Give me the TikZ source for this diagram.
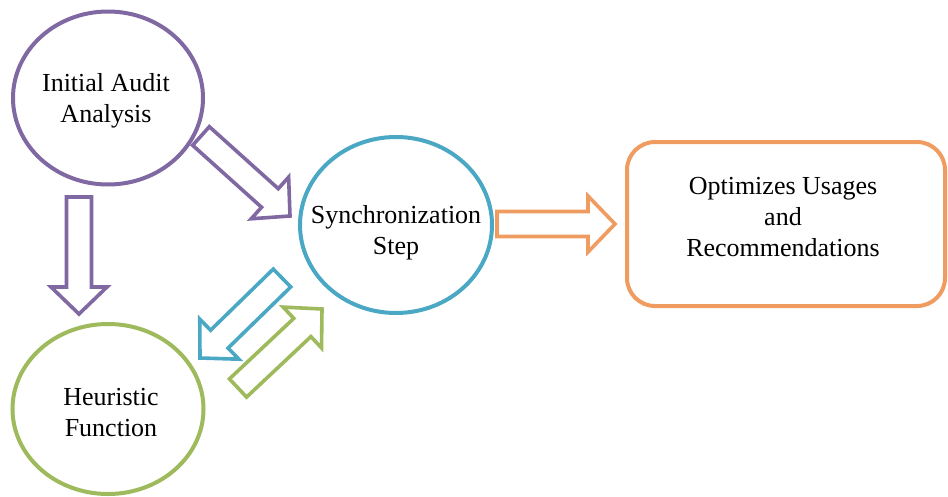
\documentclass[tikz,border=0pt]{standalone}
\usepackage{fontspec}
\setmainfont{Liberation Serif}
\usetikzlibrary{shapes.geometric,calc}

\definecolor{auditpurple}{RGB}{128,104,162}
\definecolor{syncteal}{RGB}{75,168,196}
\definecolor{heurgreen}{RGB}{158,186,92}
\definecolor{optorange}{RGB}{240,156,96}

% hollow block arrow from #2 to #3 in colour #1
\newcommand\fatarr[3]{%
  \coordinate (fab) at ($(#3)!27pt!(#2)$);
  \draw[blockline,#1]
    ($(#2)!12.5pt!90:(#3)$) -- ($(fab)!12.5pt!90:(#3)$) --
    ($(fab)!28pt!90:(#3)$) -- (#3) --
    ($(fab)!28pt!-90:(#3)$) -- ($(fab)!12.5pt!-90:(#3)$) --
    ($(#2)!12.5pt!-90:(#3)$) -- cycle;}

\begin{document}
\begin{tikzpicture}[x=1pt,y=-1pt,
  every node/.style={font=\fontsize{26}{31}\selectfont},
  stage/.style={ellipse,draw,line width=4pt,inner sep=0pt},
  caption/.style={align=center,inner sep=0pt},
  blockline/.style={line width=3.6pt,line join=miter,fill=white}]

\useasboundingbox[fill=white] (0,0) rectangle (948,496);

% stages
\node[stage,draw=auditpurple,minimum width=190pt,minimum height=173pt] (ia) at (108,98) {};
\node[stage,draw=syncteal,minimum width=192pt,minimum height=176pt] (sync) at (396,225) {};
\node[stage,draw=heurgreen,minimum width=191pt,minimum height=170pt] (heur) at (108,409) {};
\node[draw=optorange,line width=4pt,rounded corners=28pt,minimum width=318pt,minimum height=164pt,inner sep=0pt] (opt) at (786,224) {};

% captions
\node[caption] (iaText) at (106,101) {Initial Audit\\Analysis};
\node[caption] (syncText) at (396,233) {Synchronization\\Step};
\node[caption] (heurText) at (111,413) {Heuristic\\Function};
\node[caption] (optText) at (783,217) {Optimizes Usages\\and\\Recommendations};

% arrow end points
\coordinate (iaDownA) at (79,197);
\coordinate (iaDownB) at (79,314);
\coordinate (iaSyncA) at (201,136);
\coordinate (iaSyncB) at (290,216);
\coordinate (syncHeurA) at (282,278);
\coordinate (syncHeurB) at (200,358);
\coordinate (heurSyncA) at (238,388);
\coordinate (heurSyncB) at (322,309);
\coordinate (syncOptA) at (497,224);
\coordinate (syncOptB) at (615,224);

% block arrows
\fatarr{draw=auditpurple}{iaDownA}{iaDownB}
\fatarr{draw=auditpurple}{iaSyncA}{iaSyncB}
\fatarr{draw=syncteal}{syncHeurA}{syncHeurB}
\fatarr{draw=heurgreen}{heurSyncA}{heurSyncB}
\fatarr{draw=optorange}{syncOptA}{syncOptB}
\end{tikzpicture}
\end{document}
